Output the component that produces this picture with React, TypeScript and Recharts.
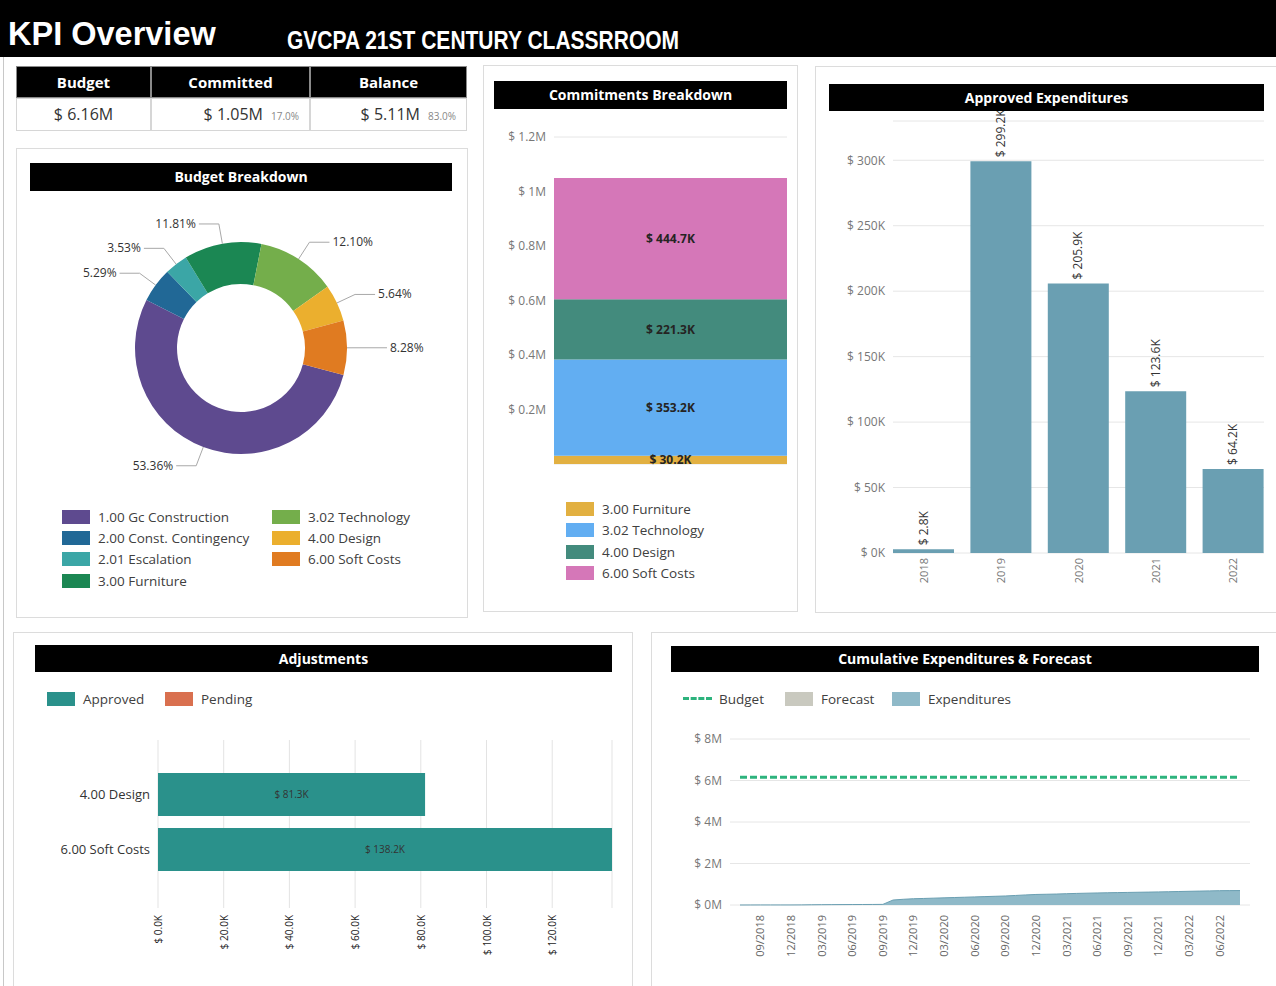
import React from "react";
import {
  PieChart, Pie, Cell, BarChart, Bar, XAxis, YAxis, CartesianGrid, LabelList,
  ComposedChart, Area, Line,
} from "recharts";

const FONT = "'Open Sans', 'Noto Sans', sans-serif";

// ---------- KPI ----------
const KPI_LABELS = ["Budget", "Committed", "Balance"];
const KPI_VALUES = ["$ 6.16M", "$ 1.05M", "$ 5.11M"];
const KPI_PCTS = ["", "17.0%", "83.0%"];

// ---------- Budget Breakdown ----------
const BUDGET_CATEGORIES = [
  "1.00 Gc Construction", "2.00 Const. Contingency", "2.01 Escalation", "3.00 Furniture",
  "3.02 Technology", "4.00 Design", "6.00 Soft Costs",
];
const BUDGET_SHARES = [53.36, 5.29, 3.53, 11.81, 12.10, 5.64, 8.28];
const BUDGET_COLORS = ["#5E4A8F", "#216896", "#3BA6A6", "#1B8753", "#74AE4B", "#EBAF2E", "#E07B21"];

// ---------- Commitments Breakdown (K) ----------
const COMMIT_CATEGORIES = ["3.00 Furniture", "3.02 Technology", "4.00 Design", "6.00 Soft Costs"];
const COMMIT_VALUES = [30.2, 353.2, 221.3, 444.7];
const COMMIT_COLORS = ["#E2B041", "#62AEF2", "#438B7D", "#D577B8"];
const COMMIT_TICKS = [0, 200, 400, 600, 800, 1000, 1200];

// ---------- Approved Expenditures (K) ----------
const YEARS = ["2018", "2019", "2020", "2021", "2022"];
const APPROVED_BY_YEAR = [2.8, 299.2, 205.9, 123.6, 64.2];
const APPROVED_TICKS = [0, 50, 100, 150, 200, 250, 300];

// ---------- Adjustments (K) ----------
const ADJ_CATEGORIES = ["4.00 Design", "6.00 Soft Costs"];
const ADJ_APPROVED = [81.3, 138.2];
const ADJ_PENDING = [0, 0];
const ADJ_TICKS = [0, 20, 40, 60, 80, 100, 120];

// ---------- Cumulative Expenditures & Forecast (K) ----------
const MONTHS = [
  "07/2018", "08/2018", "09/2018", "10/2018", "11/2018", "12/2018",
  "01/2019", "02/2019", "03/2019", "04/2019", "05/2019", "06/2019",
  "07/2019", "08/2019", "09/2019", "10/2019", "11/2019", "12/2019",
  "01/2020", "02/2020", "03/2020", "04/2020", "05/2020", "06/2020",
  "07/2020", "08/2020", "09/2020", "10/2020", "11/2020", "12/2020",
  "01/2021", "02/2021", "03/2021", "04/2021", "05/2021", "06/2021",
  "07/2021", "08/2021", "09/2021", "10/2021", "11/2021", "12/2021",
  "01/2022", "02/2022", "03/2022", "04/2022", "05/2022", "06/2022",
  "07/2022", "08/2022",
];
const CUM_EXPENDITURES = [
  0, 1.5, 2.8, 2.8, 2.8, 2.8,
  5, 10, 15, 18, 20, 22,
  24, 26, 30, 240, 275, 302,
  315, 330, 345, 360, 375, 390,
  405, 420, 435, 460, 485, 508,
  518, 528, 545, 558, 570, 580,
  590, 598, 606, 614, 622, 631,
  640, 650, 660, 670, 680, 690,
  693, 696,
];
const BUDGET_TOTAL = 6160;
const CUM_TICKS_X = [
  "09/2018", "12/2018", "03/2019", "06/2019", "09/2019", "12/2019", "03/2020", "06/2020",
  "09/2020", "12/2020", "03/2021", "06/2021", "09/2021", "12/2021", "03/2022", "06/2022",
];
const CUM_TICKS_Y = [0, 2000, 4000, 6000, 8000];

// ---------- derived tables ----------
const budgetData = BUDGET_CATEGORIES.map((name, i) => ({ name, value: BUDGET_SHARES[i] }));
const commitRow: any = { name: "Total" };
COMMIT_CATEGORIES.forEach((c, i) => { commitRow["c" + i] = COMMIT_VALUES[i]; });
const commitData = [commitRow];
const approvedData = YEARS.map((year, i) => ({ year, value: APPROVED_BY_YEAR[i] }));
const adjData = ADJ_CATEGORIES.map((name, i) => ({ name, approved: ADJ_APPROVED[i], pending: ADJ_PENDING[i] }));
const cumData = MONTHS.map((month, i) => ({ month, exp: CUM_EXPENDITURES[i], budget: BUDGET_TOTAL }));

const abs = (x: number, y: number, w: number, h: number, extra: any = {}) => ({
  position: "absolute" as const, left: x, top: y, width: w, height: h, boxSizing: "border-box" as const, ...extra,
});

const Panel = ({ x, y, w, h }: any) => (
  <div style={abs(x, y, w, h, { border: "1px solid #dcdcdc", background: "#fff" })} />
);

const TitleBar = ({ x, y, w, h, text }: any) => (
  <div style={abs(x, y, w, h, {
    background: "#000", color: "#fff", fontWeight: 700, fontSize: 14, textAlign: "center",
    lineHeight: h + "px", zIndex: 5,
  })}>{text}</div>
);

const LegendItem = ({ x, y, color, text }: any) => (
  <div style={abs(x, y - 10, 200, 20, { zIndex: 3 })}>
    <div style={abs(0, 3, 28, 14, { background: color })} />
    <div style={{ position: "absolute", left: 36, top: 0, fontSize: 13.5, lineHeight: "20px", color: "#404040", whiteSpace: "nowrap" }}>{text}</div>
  </div>
);

const RAD = Math.PI / 180;
const renderPieLabel = (props: any) => {
  const { cx, cy, midAngle, outerRadius, index } = props;
  const cos = Math.cos(-midAngle * RAD);
  const sin = Math.sin(-midAngle * RAD);
  const sx = cx + outerRadius * cos, sy = cy + outerRadius * sin;
  const mx = cx + (outerRadius + 20) * cos, my = cy + (outerRadius + 20) * sin;
  const dir = cos >= 0 ? 1 : -1;
  const ex = mx + dir * 20;
  return (
    <g key={"pl" + index}>
      <polyline points={`${sx},${sy} ${mx},${my} ${ex},${my}`} fill="none" stroke="#a8a8a8" strokeWidth={1} />
      <text x={ex + dir * 3} y={my} dy={4} textAnchor={dir > 0 ? "start" : "end"} fill="#333" fontSize={12}>
        {BUDGET_SHARES[index].toFixed(2)}%
      </text>
    </g>
  );
};

const fmtK = (v: number) => `$ ${Number(v).toFixed(1)}K`;

const ApprovedLabel = (props: any) => {
  const { x, y, width, value } = props;
  return (
    <text transform={`translate(${x + width / 2 + 4},${y - 4}) rotate(-90)`} textAnchor="start" fill="#333" fontSize={12}>
      {fmtK(value)}
    </text>
  );
};

const RotTick = ({ color, size, dy }: any) => (props: any) => {
  const { x, y, payload } = props;
  return (
    <text transform={`translate(${x + 4},${y + dy}) rotate(-90)`} textAnchor="end" fill={color} fontSize={size}>
      {payload.value}
    </text>
  );
};

const ApprovedTick = RotTick({ color: "#777", size: 11, dy: 3 });
const AdjTick = (props: any) => {
  const { x, y, payload } = props;
  return (
    <text transform={`translate(${x + 4},${y + 5}) rotate(-90)`} textAnchor="end" fill="#222" fontSize={10}>
      {`$ ${Number(payload.value).toFixed(1)}K`}
    </text>
  );
};
const CumTick = RotTick({ color: "#666", size: 11, dy: 8 });

export default function App() {
  return (
    <div style={{ position: "absolute", left: 0, top: 0, width: 1276, height: 986, background: "#fff", overflow: "hidden", fontFamily: FONT }}>
      {/* header */}
      <div style={abs(0, 0, 1276, 57, { background: "#000" })}>
        <div style={{ position: "absolute", left: 8, top: 14, fontFamily: "'Liberation Sans', Arial, sans-serif", fontWeight: 700, fontSize: 32.5, color: "#fff", lineHeight: "40px", whiteSpace: "nowrap" }}>KPI Overview</div>
        <div style={{ position: "absolute", left: 287, top: 25, fontFamily: "'Liberation Sans', Arial, sans-serif", fontWeight: 700, fontSize: 25, color: "#fff", lineHeight: "30px", whiteSpace: "nowrap", transform: "scaleX(0.84)", transformOrigin: "0 50%" }}>GVCPA 21ST CENTURY CLASSRROOM</div>
      </div>
      <div style={abs(3, 57, 1, 929, { background: "#c8c8c8" })} />

      {/* KPI table */}
      {(() => {
        const cols = [[16, 135], [151, 159], [310, 157]];
        return cols.map(([cx, cw], i) => (
          <React.Fragment key={"kpi" + i}>
            <div style={abs(cx, 66, cw, 32, { background: "#000", border: "1px solid #8a8a8a", color: "#fff", fontWeight: 700, fontSize: 15, textAlign: "center", lineHeight: "30px" })}>{KPI_LABELS[i]}</div>
            <div style={abs(cx, 98, cw, 33, { background: "#fff", border: "1px solid #d6d6d6", color: "#333", fontSize: 16, lineHeight: "31px", textAlign: i === 0 ? "center" : "right", paddingRight: i === 0 ? 0 : 10, whiteSpace: "nowrap" })}>
              {KPI_VALUES[i]}
              {KPI_PCTS[i] && <span style={{ fontSize: 10, color: "#888", marginLeft: 8 }}>{KPI_PCTS[i]}</span>}
            </div>
          </React.Fragment>
        ));
      })()}

      {/* Budget Breakdown */}
      <Panel x={16} y={148} w={452} h={470} />
      <div style={abs(30, 200, 422, 296)}>
        <PieChart width={422} height={296} margin={{ top: 0, right: 0, bottom: 0, left: 0 }}>
          <Pie data={budgetData} dataKey="value" nameKey="name" cx={211} cy={148} innerRadius={64} outerRadius={106}
            startAngle={-14.8} endAngle={-374.8} stroke="none" label={renderPieLabel} labelLine={false} isAnimationActive={false}>
            {budgetData.map((d, i) => <Cell key={d.name} fill={BUDGET_COLORS[i]} />)}
          </Pie>
        </PieChart>
      </div>
      <TitleBar x={30} y={163} w={422} h={28} text="Budget Breakdown" />
      {BUDGET_CATEGORIES.map((c, i) => (
        <LegendItem key={c} x={62} y={517 + i * 21.2} color={BUDGET_COLORS[i]} text={c} />
      )).map((el, i) => i < 4 ? el : (
        <LegendItem key={BUDGET_CATEGORIES[i]} x={272} y={517 + (i - 4) * 21.2} color={BUDGET_COLORS[i]} text={BUDGET_CATEGORIES[i]} />
      ))}

      {/* Commitments Breakdown */}
      <Panel x={483} y={65} w={315} h={547} />
      <div style={abs(490, 125, 300, 345)}>
        <BarChart width={300} height={345} data={commitData} margin={{ top: 12, right: 3, bottom: 6, left: 0 }} barCategoryGap={0}>
          <CartesianGrid horizontal vertical={false} stroke="#e6e6e6" />
          <XAxis dataKey="name" hide />
          <YAxis width={64} domain={[0, 1200]} ticks={COMMIT_TICKS} axisLine={false} tickLine={false}
            tick={{ fill: "#777", fontSize: 12 }} tickFormatter={(v: number) => `$ ${v / 1000}M`} />
          {COMMIT_CATEGORIES.map((c, i) => (
            <Bar key={c} dataKey={"c" + i} stackId="a" fill={COMMIT_COLORS[i]} isAnimationActive={false}>
              <LabelList dataKey={"c" + i} position="center" formatter={(v: any) => fmtK(v)} fill="#252423" fontSize={12} fontWeight={700} />
            </Bar>
          ))}
        </BarChart>
      </div>
      <TitleBar x={494} y={81} w={293} h={28} text="Commitments Breakdown" />
      {COMMIT_CATEGORIES.map((c, i) => (
        <LegendItem key={c} x={566} y={509 + i * 21.3} color={COMMIT_COLORS[i]} text={c} />
      ))}

      {/* Approved Expenditures */}
      <Panel x={815} y={66} w={470} h={547} />
      <div style={abs(820, 111, 445, 477)}>
        <BarChart width={445} height={477} data={approvedData} margin={{ top: 10, right: 1, bottom: 0, left: 0 }}>
          <CartesianGrid horizontal vertical={false} stroke="#e6e6e6" />
          <XAxis dataKey="year" height={35} axisLine={false} tickLine={false} tickSize={0} padding={{ left: -8, right: -8 }}
            tick={ApprovedTick} interval={0} />
          <YAxis width={73} domain={[0, 330]} ticks={APPROVED_TICKS} axisLine={false} tickLine={false}
            tick={{ fill: "#777", fontSize: 12 }} tickFormatter={(v: number) => `$ ${v}K`} />
          <Bar dataKey="value" fill="#6A9FB2" barSize={61} isAnimationActive={false}>
            <LabelList dataKey="value" content={ApprovedLabel} />
          </Bar>
        </BarChart>
      </div>
      <TitleBar x={829} y={84} w={435} h={27} text="Approved Expenditures" />

      {/* Adjustments */}
      <Panel x={13} y={632} w={620} h={360} />
      <TitleBar x={35} y={645} w={577} h={27} text="Adjustments" />
      <LegendItem x={47} y={699} color="#2A918B" text="Approved" />
      <LegendItem x={165} y={699} color="#D9704F" text="Pending" />
      <div style={abs(20, 730, 600, 238)}>
        <BarChart width={600} height={238} data={adjData} layout="vertical" margin={{ top: 10, right: 8, bottom: 0, left: 0 }}>
          <CartesianGrid horizontal={false} vertical stroke="#e3e3e3" />
          <XAxis type="number" domain={[0, "dataMax"]} ticks={ADJ_TICKS} height={60} axisLine={false} tickLine={false}
            tickSize={0} tick={AdjTick} interval={0} />
          <YAxis type="category" dataKey="name" width={138} axisLine={false} tickLine={false}
            padding={{ top: 27, bottom: 31 }} tick={{ fill: "#333", fontSize: 13 }} />
          <Bar dataKey="approved" stackId="s" fill="#2A918B" barSize={43} isAnimationActive={false}>
            <LabelList dataKey="approved" position="center" formatter={(v: any) => fmtK(v)} fill="#333" fontSize={10} />
          </Bar>
          <Bar dataKey="pending" stackId="s" fill="#D9704F" barSize={43} isAnimationActive={false} />
        </BarChart>
      </div>

      {/* Cumulative Expenditures & Forecast */}
      <Panel x={651} y={632} w={640} h={360} />
      <TitleBar x={671} y={646} w={588} h={26} text="Cumulative Expenditures & Forecast" />
      <div style={abs(683, 689, 80, 20, { zIndex: 3 })}>
        <div style={abs(0, 8, 29, 0, { borderTop: "3px dashed #2DB37D" })} />
        <div style={{ position: "absolute", left: 36, top: 0, fontSize: 13.5, lineHeight: "20px", color: "#404040" }}>Budget</div>
      </div>
      <LegendItem x={785} y={699} color="#C9C9BF" text="Forecast" />
      <LegendItem x={892} y={699} color="#8FB9C8" text="Expenditures" />
      <div style={abs(660, 725, 590, 245)}>
        <ComposedChart width={590} height={245} data={cumData} margin={{ top: 14, right: 0, bottom: 0, left: 0 }}>
          <CartesianGrid horizontal vertical={false} stroke="#e6e6e6" />
          <XAxis dataKey="month" height={65} ticks={CUM_TICKS_X} interval={0} axisLine={false} tickLine={false}
            tickSize={0} padding={{ left: 10, right: 10 }} tick={CumTick} />
          <YAxis width={70} domain={[0, 8000]} ticks={CUM_TICKS_Y} axisLine={false} tickLine={false}
            tick={{ fill: "#777", fontSize: 12 }} tickFormatter={(v: number) => `$ ${v / 1000}M`} />
          <Area type="linear" dataKey="exp" fill="#8FB9C8" fillOpacity={1} stroke="#6A9FB2" strokeWidth={1} isAnimationActive={false} />
          <Line type="linear" dataKey="budget" stroke="#2DB37D" strokeWidth={3} strokeDasharray="7 3" dot={false} isAnimationActive={false} />
        </ComposedChart>
      </div>
    </div>
  );
}
